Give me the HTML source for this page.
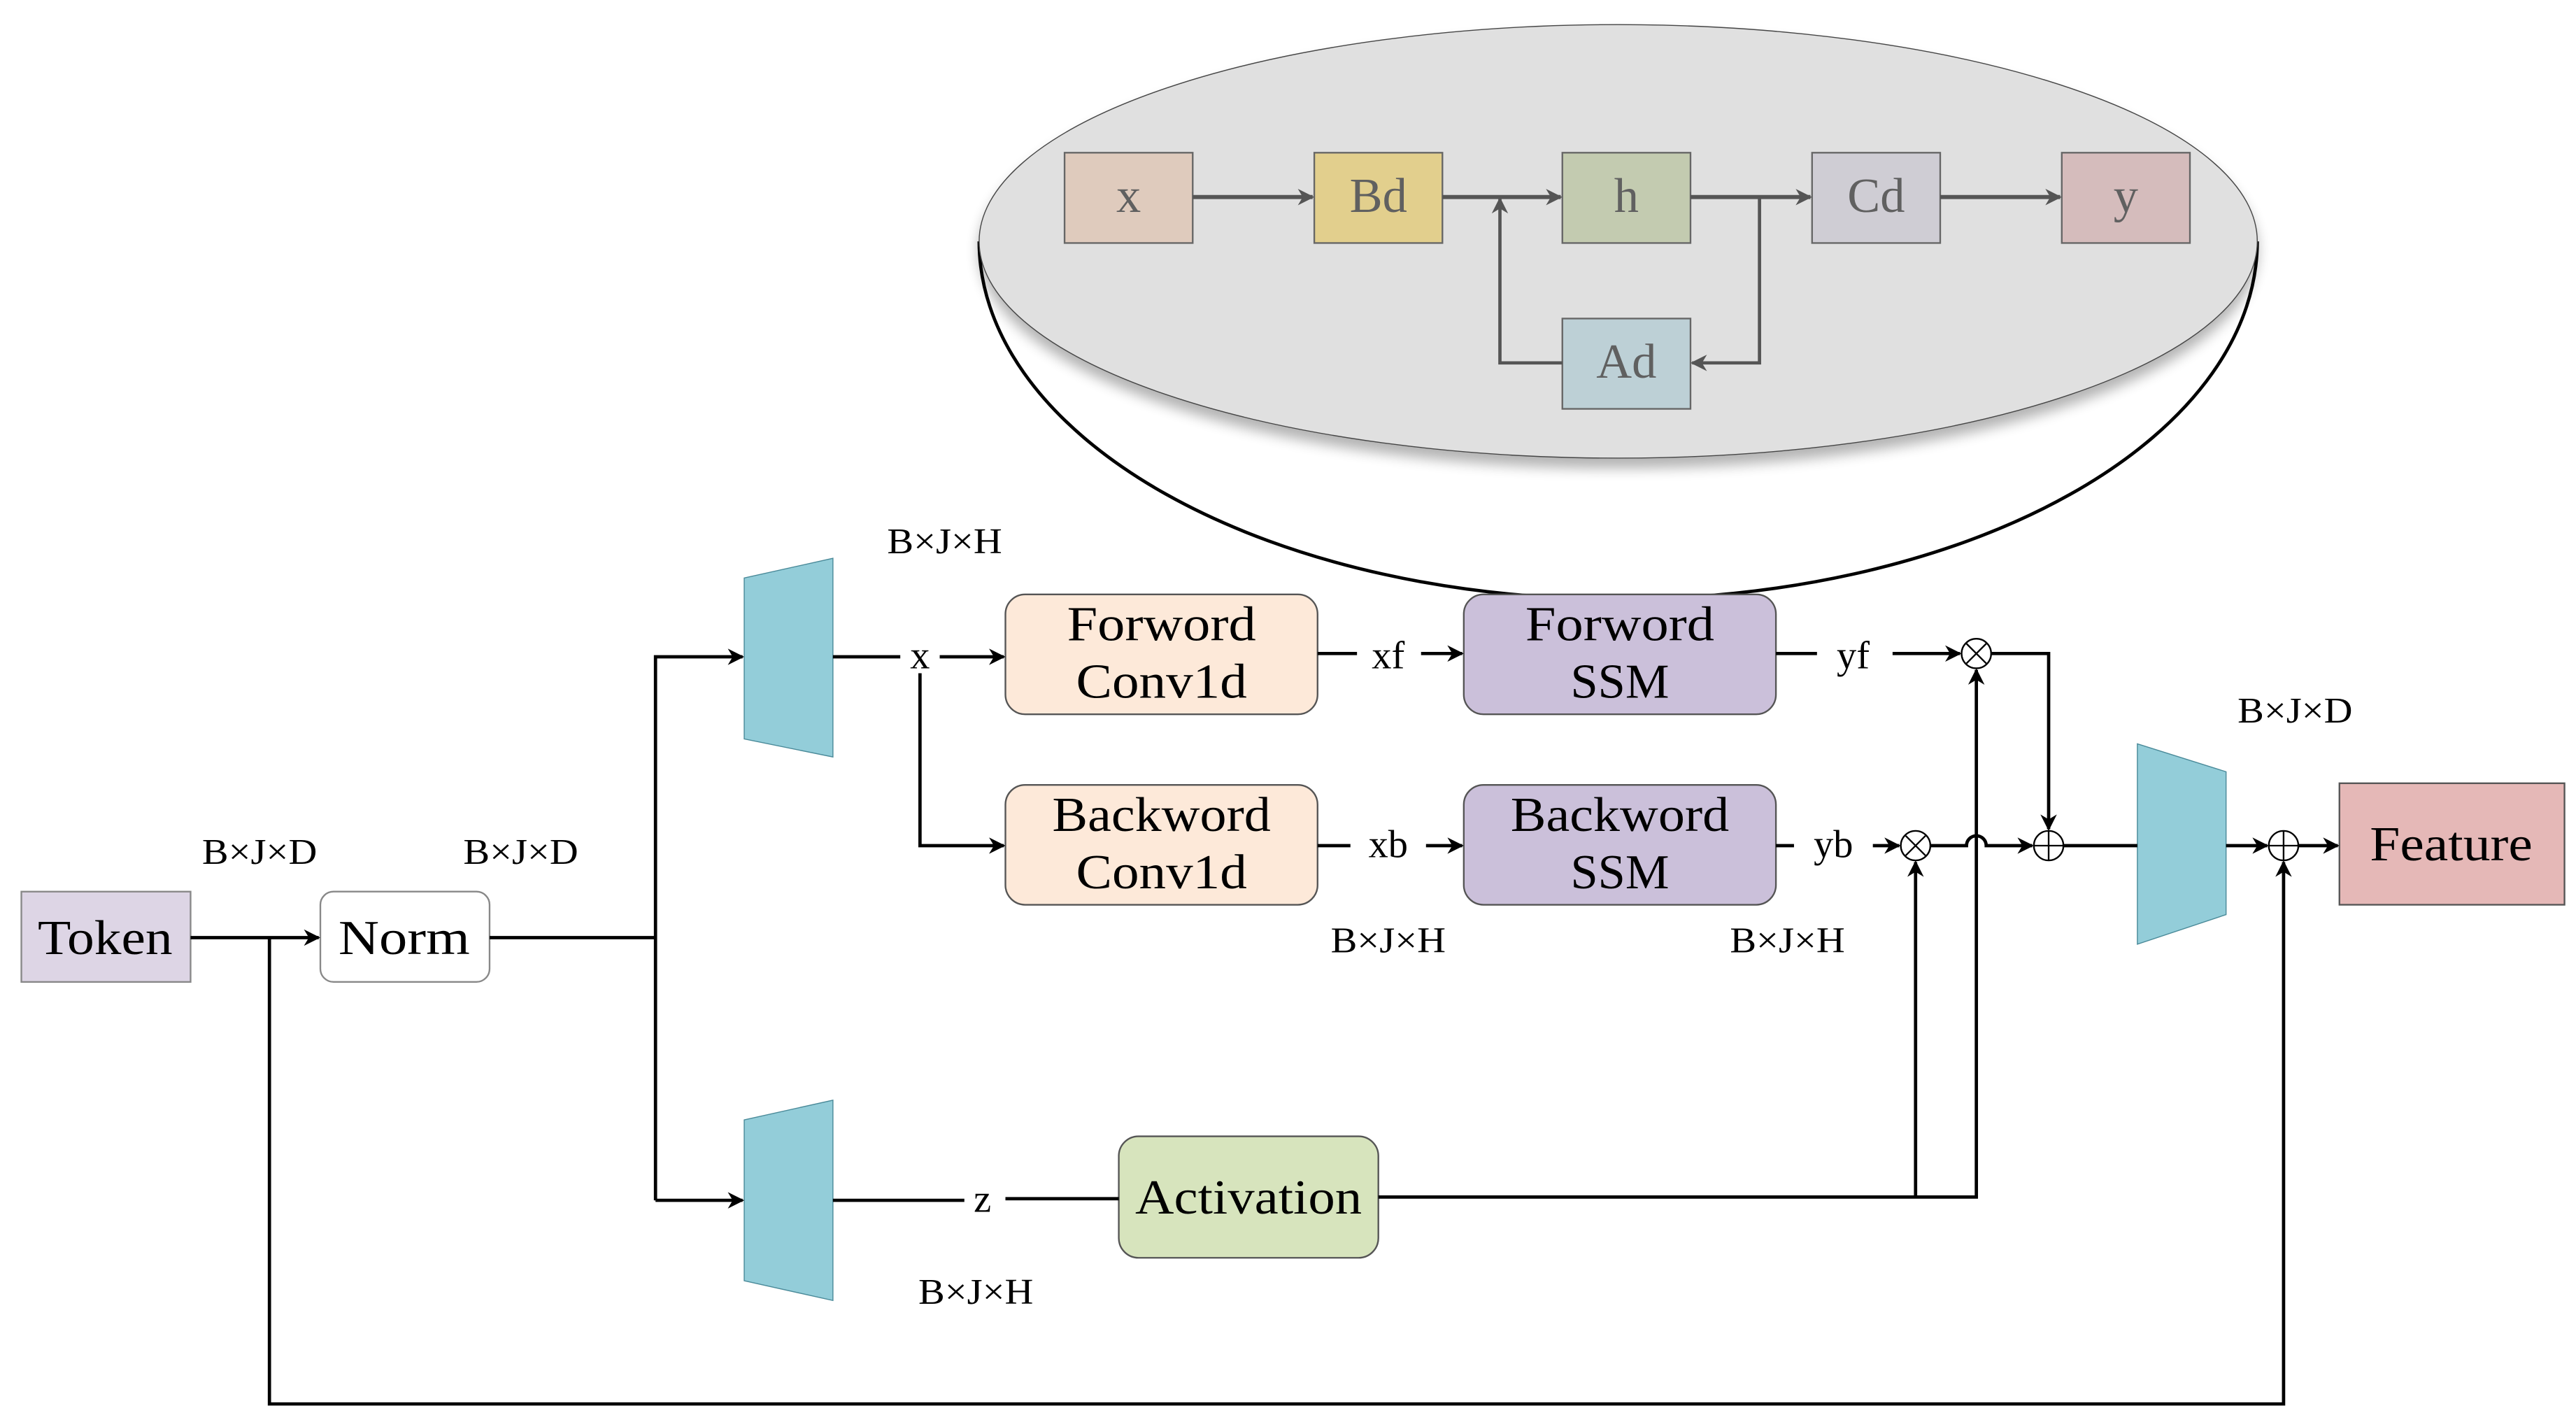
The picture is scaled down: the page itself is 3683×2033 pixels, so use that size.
<!DOCTYPE html>
<html><head><meta charset="utf-8"><style>html,body{margin:0;padding:0;background:#fff}svg{display:block}</style></head>
<body>
<svg width="3683" height="2033" viewBox="0 0 1568 866" preserveAspectRatio="none" xmlns="http://www.w3.org/2000/svg" font-family="Liberation Serif, serif">
<defs>
<marker id="a" markerWidth="10" markerHeight="10" refX="9" refY="5" orient="auto" markerUnits="userSpaceOnUse"><path d="M0,0 L10,5 L0,10 L3,5 z" fill="#000"/></marker>
<marker id="g" markerWidth="10" markerHeight="10" refX="9" refY="5" orient="auto" markerUnits="userSpaceOnUse"><path d="M0,0 L10,5 L0,10 L3,5 z" fill="#555"/></marker>
<filter id="sh" x="-10%" y="-10%" width="120%" height="130%"><feGaussianBlur in="SourceAlpha" stdDeviation="4"/><feOffset dy="6"/><feComponentTransfer><feFuncA type="linear" slope="0.3"/></feComponentTransfer><feMerge><feMergeNode/><feMergeNode in="SourceGraphic"/></feMerge></filter>
</defs>
<path d="M596,147 A389,218 0 0 0 1374,147" fill="none" stroke="#000" stroke-width="2"/>
<ellipse cx="985" cy="147" rx="389" ry="132" fill="#e0e0e0" stroke="#444" stroke-width="0.6" filter="url(#sh)"/>
<g stroke="#666" stroke-width="1">
<rect x="648" y="93" width="78" height="55" fill="#dfcbbd"/>
<rect x="800" y="93" width="78" height="55" fill="#e2cf8d"/>
<rect x="951" y="93" width="78" height="55" fill="#c3cbb0"/>
<rect x="1103" y="93" width="78" height="55" fill="#cfcdd4"/>
<rect x="1255" y="93" width="78" height="55" fill="#d5bcbc"/>
<rect x="951" y="194" width="78" height="55" fill="#bdd0d6"/>
</g>
<g font-size="30" fill="#606060" text-anchor="middle">
<text x="687" y="129">x</text><text x="839" y="129">Bd</text><text x="990" y="129">h</text><text x="1142" y="129">Cd</text><text x="1294" y="129">y</text><text x="990" y="230">Ad</text>
</g>
<g stroke="#555" stroke-width="2.5" fill="none">
<line x1="726" y1="120" x2="799" y2="120" marker-end="url(#g)"/>
<line x1="878" y1="120" x2="950" y2="120" marker-end="url(#g)"/>
<line x1="1029" y1="120" x2="1102" y2="120" marker-end="url(#g)"/>
<line x1="1181" y1="120" x2="1254" y2="120" marker-end="url(#g)"/>
<polyline points="1071,120 1071,221 1030,221" marker-end="url(#g)" stroke-width="2"/>
<polyline points="951,221 913,221 913,121" marker-end="url(#g)" stroke-width="2"/>
</g>
<rect x="13" y="543" width="103" height="55" fill="#ddd5e5" stroke="#888"/>
<rect x="195" y="543" width="103" height="55" rx="8" fill="#fff" stroke="#888"/>
<rect x="612" y="362" width="190" height="73" rx="12" fill="#fde9d9" stroke="#555"/>
<rect x="612" y="478" width="190" height="73" rx="12" fill="#fde9d9" stroke="#555"/>
<rect x="891" y="362" width="190" height="73" rx="12" fill="#cbc0da" stroke="#555"/>
<rect x="891" y="478" width="190" height="73" rx="12" fill="#cbc0da" stroke="#555"/>
<rect x="681" y="692" width="158" height="74" rx="12" fill="#d7e4bd" stroke="#555"/>
<rect x="1424" y="477" width="137" height="74" fill="#e5b8b7" stroke="#555"/>
<polygon points="453,352 507,340 507,461 453,450" fill="#93cdd9" stroke="#4a8a99" stroke-width="0.6"/>
<polygon points="453,682 507,670 507,792 453,780" fill="#93cdd9" stroke="#4a8a99" stroke-width="0.6"/>
<polygon points="1301,453 1355,470 1355,557 1301,575" fill="#93cdd9" stroke="#4a8a99" stroke-width="0.6"/>
<g font-size="30" fill="#000" text-anchor="middle" lengthAdjust="spacingAndGlyphs">
<text x="64" y="581" textLength="82" lengthAdjust="spacingAndGlyphs">Token</text>
<text x="246" y="581" textLength="80" lengthAdjust="spacingAndGlyphs">Norm</text>
<text x="707" y="390" textLength="115" lengthAdjust="spacingAndGlyphs">Forword</text>
<text x="707" y="425" textLength="104" lengthAdjust="spacingAndGlyphs">Conv1d</text>
<text x="707" y="506" textLength="133" lengthAdjust="spacingAndGlyphs">Backword</text>
<text x="707" y="541" textLength="104" lengthAdjust="spacingAndGlyphs">Conv1d</text>
<text x="986" y="390" textLength="115" lengthAdjust="spacingAndGlyphs">Forword</text>
<text x="986" y="425" textLength="60" lengthAdjust="spacingAndGlyphs">SSM</text>
<text x="986" y="506" textLength="133" lengthAdjust="spacingAndGlyphs">Backword</text>
<text x="986" y="541" textLength="60" lengthAdjust="spacingAndGlyphs">SSM</text>
<text x="760" y="739" textLength="138" lengthAdjust="spacingAndGlyphs">Activation</text>
<text x="1492" y="524" textLength="99" lengthAdjust="spacingAndGlyphs">Feature</text>
</g>
<g font-size="24" fill="#000" text-anchor="middle">
<text x="560" y="407">x</text><text x="845" y="407">xf</text><text x="1128" y="407">yf</text>
<text x="845" y="522">xb</text><text x="1116" y="522">yb</text><text x="598" y="738">z</text>
</g>
<g font-size="22" fill="#000" text-anchor="middle">
<text x="575" y="337" textLength="70" lengthAdjust="spacingAndGlyphs">B×J×H</text>
<text x="158" y="526" textLength="70" lengthAdjust="spacingAndGlyphs">B×J×D</text>
<text x="317" y="526" textLength="70" lengthAdjust="spacingAndGlyphs">B×J×D</text>
<text x="845" y="580" textLength="70" lengthAdjust="spacingAndGlyphs">B×J×H</text>
<text x="1088" y="580" textLength="70" lengthAdjust="spacingAndGlyphs">B×J×H</text>
<text x="594" y="794" textLength="70" lengthAdjust="spacingAndGlyphs">B×J×H</text>
<text x="1397" y="440" textLength="70" lengthAdjust="spacingAndGlyphs">B×J×D</text>
</g>
<g stroke="#000" stroke-width="2" fill="none">
<line x1="116" y1="571" x2="194" y2="571" marker-end="url(#a)"/>
<polyline points="298,571 399,571"/>
<polyline points="399,731 399,400 452,400" marker-end="url(#a)"/>
<line x1="399" y1="731" x2="452" y2="731" marker-end="url(#a)"/>
<line x1="507" y1="400" x2="548" y2="400"/>
<line x1="572" y1="400" x2="611" y2="400" marker-end="url(#a)"/>
<polyline points="560,410 560,515 611,515" marker-end="url(#a)"/>
<line x1="802" y1="398" x2="826" y2="398"/><line x1="865" y1="398" x2="890" y2="398" marker-end="url(#a)"/>
<line x1="802" y1="515" x2="822" y2="515"/><line x1="868" y1="515" x2="890" y2="515" marker-end="url(#a)"/>
<line x1="1081" y1="398" x2="1106" y2="398"/><line x1="1152" y1="398" x2="1193" y2="398" marker-end="url(#a)"/>
<line x1="1081" y1="515" x2="1092" y2="515"/><line x1="1140" y1="515" x2="1156" y2="515" marker-end="url(#a)"/>
<polyline points="1212,398 1247,398 1247,505" marker-end="url(#a)"/>
<path d="M1175,515 H1197 A6,6 0 0 1 1209,515 H1237" marker-end="url(#a)"/>
<line x1="1256" y1="515" x2="1301" y2="515"/>
<line x1="1355" y1="515" x2="1380" y2="515" marker-end="url(#a)"/>
<line x1="1399" y1="515" x2="1423" y2="515" marker-end="url(#a)"/>
<line x1="507" y1="731" x2="587" y2="731"/><line x1="612" y1="730" x2="681" y2="730"/>
<polyline points="839,729 1203,729 1203,408" marker-end="url(#a)"/>
<line x1="1166" y1="729" x2="1166" y2="525" marker-end="url(#a)"/>
<polyline points="164,571 164,855 1390,855 1390,525" marker-end="url(#a)"/>
</g>
<g stroke="#000" stroke-width="1" fill="#fff">
<circle cx="1203" cy="398" r="9"/><path d="M1197,392 L1209,404 M1209,392 L1197,404"/>
<circle cx="1166" cy="515" r="9"/><path d="M1160,509 L1172,521 M1172,509 L1160,521"/>
<circle cx="1247" cy="515" r="9"/><path d="M1238,515 H1256 M1247,506 V524"/>
<circle cx="1390" cy="515" r="9"/><path d="M1381,515 H1399 M1390,506 V524"/>
</g>
</svg>
</body></html>
